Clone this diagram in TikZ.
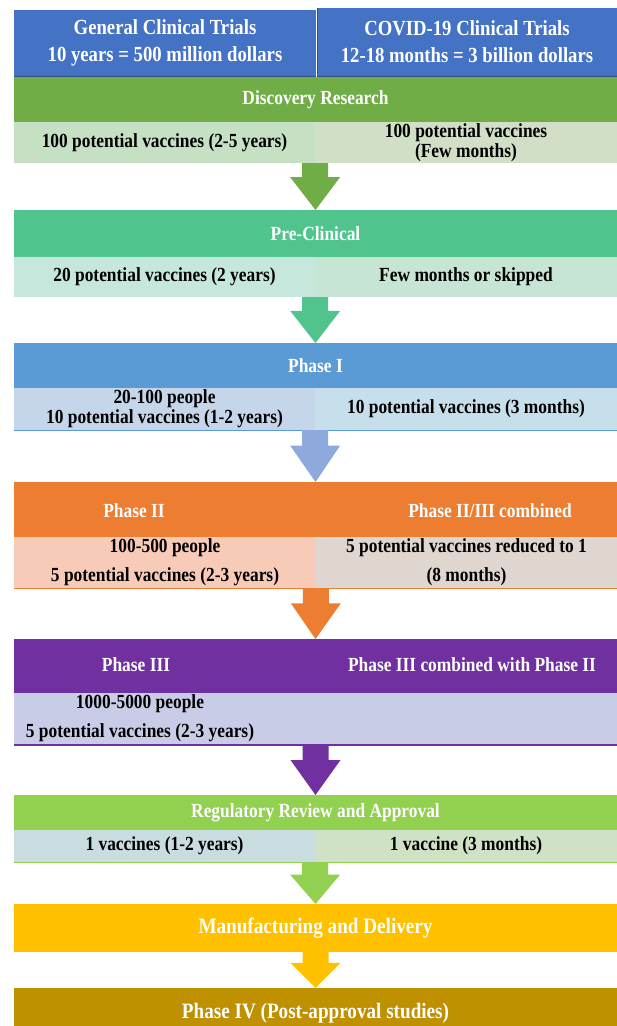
\documentclass[tikz,border=0pt]{standalone}
\usepackage{fontspec}
\setmainfont{Liberation Serif}[FakeStretch=0.87]
\usepackage{tikz}
\usetikzlibrary{calc}

\definecolor{hdrblue}{HTML}{4472C4}
\definecolor{discgreen}{HTML}{70AD47}
\definecolor{discsubl}{HTML}{C5E0C3}
\definecolor{discsubr}{HTML}{D0DFC5}
\definecolor{pregreen}{HTML}{50C48C}
\definecolor{presubl}{HTML}{C5E7DC}
\definecolor{presubr}{HTML}{C6E5D4}
\definecolor{phoneblue}{HTML}{5B9BD5}
\definecolor{phonesubl}{HTML}{C5D6EB}
\definecolor{phonesubr}{HTML}{C6DFEA}
\definecolor{phonearrow}{HTML}{8EAADC}
\definecolor{phtwoorange}{HTML}{ED7D31}
\definecolor{phtwosubl}{HTML}{F8CBB9}
\definecolor{phtwosubr}{HTML}{E0D6D0}
\definecolor{phthreepurple}{HTML}{7030A0}
\definecolor{phthreesub}{HTML}{C9CCE6}
\definecolor{reggreen}{HTML}{92D050}
\definecolor{regsubl}{HTML}{C9DCE0}
\definecolor{regsubr}{HTML}{D0E2C6}
\definecolor{mfgyellow}{HTML}{FFC000}
\definecolor{phfourgold}{HTML}{BF9000}

% block arrow from one stage to the next
\newcommand{\stagearrow}[3]{%
    \coordinate (mid) at ($(#1)!0.3!(#2)$);
    \fill[#3] ($(#1)+(-13,0)$) -- ($(#1)+(13,0)$) -- ($(mid)+(13,0)$) -- ($(mid)+(25,0)$)
        -- (#2) -- ($(mid)+(-25,0)$) -- ($(mid)+(-13,0)$) -- cycle;
}

\begin{document}
\begin{tikzpicture}[x=1pt,y=1pt,yscale=-1,
    cell/.style={anchor=north west,inner sep=0pt,outer sep=0pt,align=center,
        font=\bfseries\fontsize{20}{20}\selectfont},
    bar/.style={cell,fill=#1,text=white},
    sub/.style={cell,fill=#1,text=black},
    bartext/.style={inner sep=0pt,text=white,font=\bfseries\fontsize{20}{20}\selectfont}]
    \useasboundingbox (0,0) rectangle (617,1026);

    %Header
    \node[bar=hdrblue,minimum width=302pt,minimum height=66pt,
        font=\bfseries\fontsize{21.5}{27}\selectfont] (hdrl) at (14,10)
        {General Clinical Trials\\10 years = 500 million dollars};
    \node[bar=hdrblue,minimum width=300pt,minimum height=68pt,
        font=\bfseries\fontsize{21.5}{27}\selectfont] (hdrr) at (317,8)
        {COVID-19 Clinical Trials\\12-18 months = 3 billion dollars};
    \draw[hdrblue!70!black,line width=0.8pt] (hdrr.north west) -- (hdrr.south west) -- (hdrr.south east);
    \draw[hdrblue!70!black,line width=0.8pt] (hdrl.south west) -- (hdrl.south east);

    %Discovery
    \node[bar=discgreen,minimum width=603pt,minimum height=45pt] (disc) at (14,77) {Discovery Research};
    \node[sub=discsubl,minimum width=301pt,minimum height=41pt] (discl) at (14,122) {100 potential vaccines (2-5 years)};
    \node[sub=discsubr,minimum width=302pt,minimum height=41pt] (discr) at (315,122) {100 potential vaccines\\(Few months)};

    %Pre-clinical
    \node[bar=pregreen,minimum width=603pt,minimum height=47pt] (pre) at (14,210) {Pre-Clinical};
    \node[sub=presubl,minimum width=301pt,minimum height=40pt] (prel) at (14,257) {20 potential vaccines (2 years)};
    \node[sub=presubr,minimum width=302pt,minimum height=40pt] (prer) at (315,257) {Few months or skipped};

    %Phase I
    \node[bar=phoneblue,minimum width=603pt,minimum height=45pt] (phone) at (14,343) {Phase I};
    \node[sub=phonesubl,minimum width=301pt,minimum height=42pt] (phonel) at (14,388) {20-100 people\\10 potential vaccines (1-2 years)};
    \node[sub=phonesubr,minimum width=302pt,minimum height=42pt] (phoner) at (315,388) {10 potential vaccines (3 months)};
    \draw[phoneblue,line width=1pt] (phonel.south west) -- (phoner.south east);

    %Phase II
    \node[bar=phtwoorange,minimum width=603pt,minimum height=55pt] (phtwo) at (14,482) {};
    \node[bartext] (phtwoa) at (134,511) {Phase II};
    \node[bartext] (phtwob) at (490,511) {Phase II/III combined};
    \node[sub=phtwosubl,minimum width=302pt,minimum height=51pt] (phtwol) at (14,537) {100-500 people\\[9pt]5 potential vaccines (2-3 years)};
    \node[sub=phtwosubr,minimum width=301pt,minimum height=51pt] (phtwor) at (316,537) {5 potential vaccines reduced to 1\\[9pt](8 months)};
    \draw[phtwoorange,line width=1pt] (phtwol.south west) -- (phtwor.south east);

    %Phase III
    \node[bar=phthreepurple,minimum width=603pt,minimum height=54pt] (phthree) at (14,639) {};
    \node[bartext] (phthreea) at (136,665) {Phase III};
    \node[bartext] (phthreeb) at (472,665) {Phase III combined with Phase II};
    \node[sub=phthreesub,minimum width=603pt,minimum height=52pt] (phthrees) at (14,693) {};
    \node[inner sep=0pt,align=center,font=\bfseries\fontsize{20}{20}\selectfont] (phthreet) at (140,718)
        {1000-5000 people\\[9pt]5 potential vaccines (2-3 years)};
    \draw[phthreepurple,line width=1.5pt] (phthrees.south west) -- (phthrees.south east);

    %Regulatory
    \node[bar=reggreen,minimum width=603pt,minimum height=35pt] (reg) at (14,795) {Regulatory Review and Approval};
    \node[sub=regsubl,minimum width=301pt,minimum height=32pt] (regl) at (14,830) {1 vaccines (1-2 years)};
    \node[sub=regsubr,minimum width=302pt,minimum height=32pt] (regr) at (315,830) {1 vaccine (3 months)};
    \draw[reggreen,line width=1pt] (regl.south west) -- (regr.south east);

    %Manufacturing and Phase IV
    \node[bar=mfgyellow,minimum width=603pt,minimum height=48pt,font=\bfseries\fontsize{22}{22}\selectfont] (mfg) at (14,904) {Manufacturing and Delivery};
    \node[bar=phfourgold,minimum width=603pt,minimum height=50pt,font=\bfseries\fontsize{22}{22}\selectfont] (phfour) at (14,988) {Phase IV (Post-approval studies)};

    %Arrows
    \stagearrow{discl.south east}{pre.north}{discgreen}
    \stagearrow{prel.south east}{phone.north}{pregreen}
    \stagearrow{phonel.south east}{phtwo.north}{phonearrow}
    \stagearrow{phtwol.south east}{phthree.north}{phtwoorange}
    \stagearrow{phthrees.south}{reg.north}{phthreepurple}
    \stagearrow{regl.south east}{mfg.north}{reggreen}
    \stagearrow{mfg.south}{phfour.north}{mfgyellow}

\end{tikzpicture}
\end{document}
